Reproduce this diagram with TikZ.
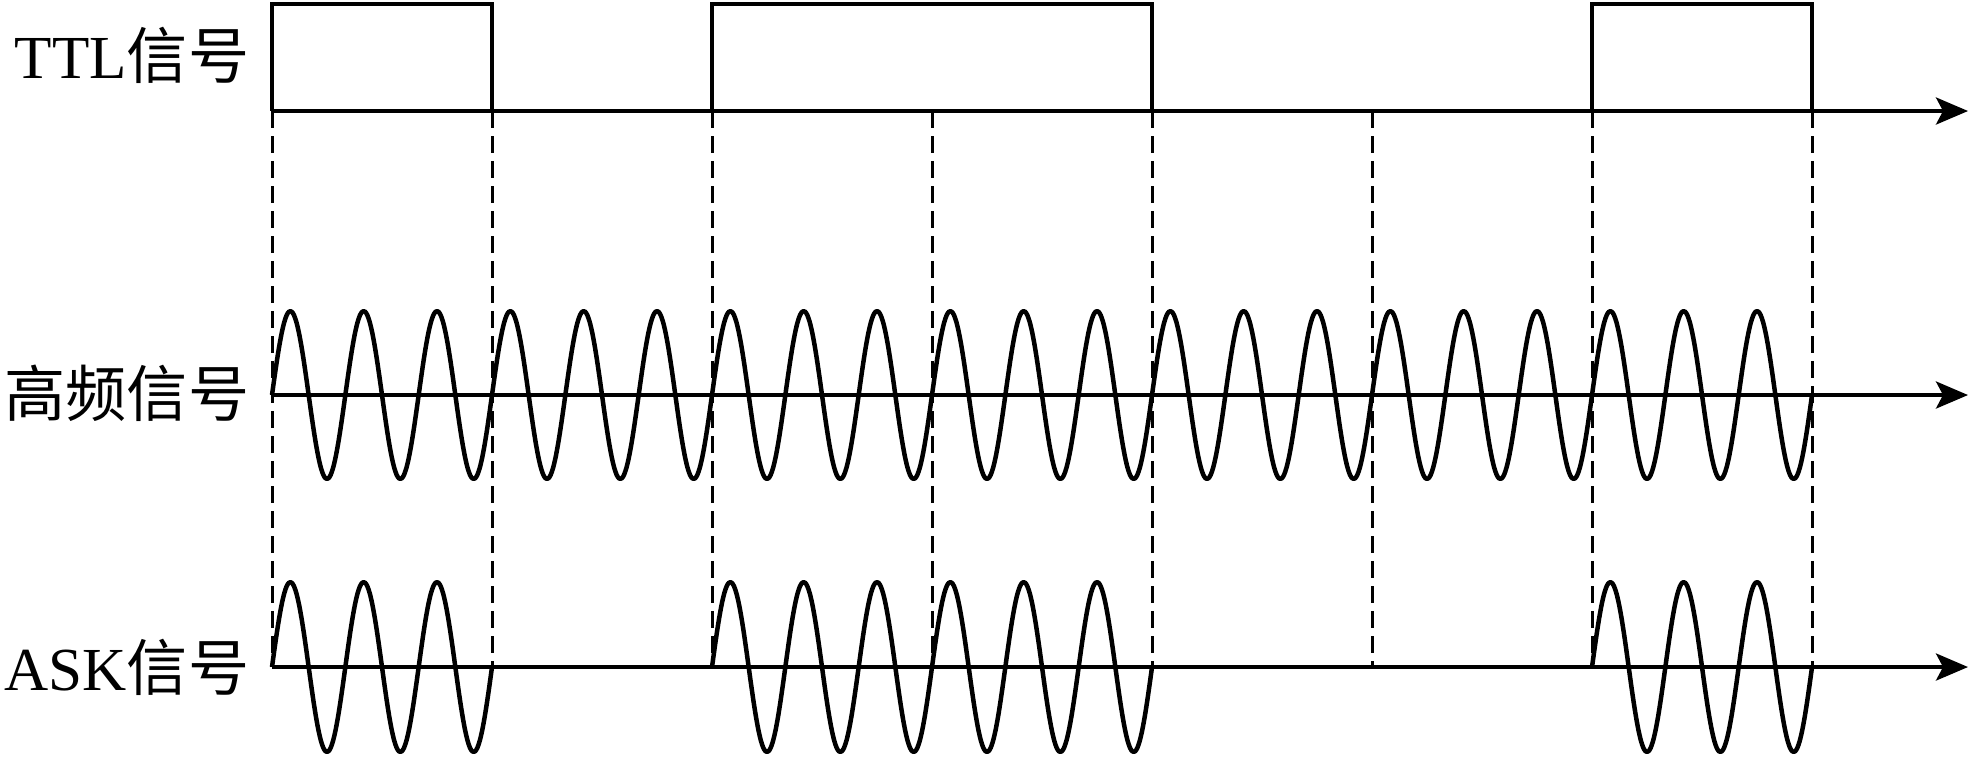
\documentclass[tikz,border=0pt]{standalone}
\usepackage{fontspec}
\setmainfont{Liberation Serif}
\newfontfamily\cjk{Noto Sans CJK SC}
\usetikzlibrary{arrows.meta,calc}
\tikzset
{
  axis/.style={line width=0.4mm,-{Stealth[length=3.2mm,width=2.7mm,inset=0.7mm]}},
  pulse/.style={line width=0.4mm,line join=miter},
  guide/.style={line width=0.3mm,dash pattern=on 1.7mm off 0.8mm},
  wave/.style={line width=0.45mm,line join=round},
  sig/.style={anchor=base east,inner sep=0pt,font=\fontsize{17.4}{21}\selectfont}
}
\begin{document}
\begin{tikzpicture}[x=0.1mm,y=-0.1mm]
            \useasboundingbox (0,0) rectangle (1971,757);
            % koordinate
            \coordinate (T0) at (272,111);
            \coordinate (T1) at (1968,111);
            \coordinate (H0) at (272,395);
            \coordinate (H1) at (1968,395);
            \coordinate (A0) at (272,667);
            \coordinate (A1) at (1968,667);
            \foreach\k in {0,...,7}
              \coordinate (g\k) at ($(T0)+(220*\k,0)$);

            % oznake
            \node (ttl) [sig] at (250,78)  {TTL{\cjk 信号}};
            \node (hf)  [sig] at (250,416) {{\cjk 高频信号}};
            \node (ask) [sig] at (250,690) {ASK{\cjk 信号}};

            % crtkane crte
            \foreach\k in {0,...,7}
              \draw[guide] (g\k) -- (g\k |- A0);

            % TTL impulzi
            \foreach\a/\b in {0/1,2/4,6/7}
              \draw[pulse] (g\a) -- ++(0,-107) -| (g\b);

            % nosilni signal
            \draw[wave] plot[domain=0:1540,samples=631,smooth] ({272+\x},{395-84*sin(4.90909*\x)});

            % ASK signal
            \foreach\k in {0,2,3,6}
              \draw[wave] plot[domain=0:220,samples=91,smooth] ({272+220*\k+\x},{667-85*sin(4.90909*\x)});

            % osi
            \draw[axis] (T0) -- (T1);
            \draw[axis] (H0) -- (H1);
            \draw[axis] (A0) -- (A1);
\end{tikzpicture}
\end{document}
